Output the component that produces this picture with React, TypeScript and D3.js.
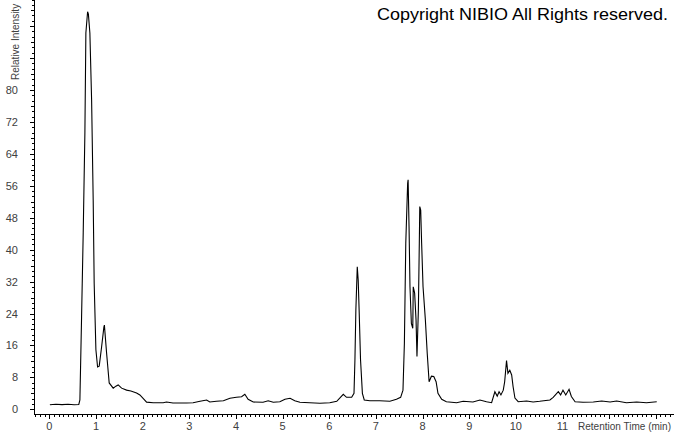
import React, { useEffect, useRef } from "react";
import * as d3 from "d3";

// retention time (min) and relative intensity
const times = [
  0.01, 0.14, 0.27, 0.4, 0.53, 0.63, 0.654, 0.69, 0.725, 0.761, 0.782, 0.819, 0.836, 0.868, 0.905,
  0.939, 0.96, 0.997, 1.033, 1.068, 1.119, 1.168, 1.179, 1.226, 1.282, 1.368, 1.425, 1.475, 1.548,
  1.655, 1.747, 1.869, 1.94, 2.004, 2.084, 2.225, 2.44, 2.51, 2.65, 2.94, 3.08, 3.23, 3.37, 3.44,
  3.58, 3.73, 3.87, 4.01, 4.12, 4.19, 4.26, 4.37, 4.58, 4.69, 4.8, 4.94, 5.05, 5.16, 5.26, 5.37,
  5.58, 5.8, 6.01, 6.16, 6.3, 6.37, 6.48, 6.53, 6.55, 6.57, 6.6, 6.62, 6.64, 6.67, 6.71, 6.75,
  6.87, 7.08, 7.3, 7.44, 7.53, 7.58, 7.61, 7.64, 7.68, 7.69, 7.71, 7.73, 7.76, 7.79, 7.8, 7.83,
  7.86, 7.88, 7.91, 7.93, 7.94, 7.96, 7.98, 8.01, 8.06, 8.1, 8.14, 8.19, 8.24, 8.29, 8.33, 8.41,
  8.51, 8.73, 8.87, 9.08, 9.23, 9.37, 9.48, 9.55, 9.6, 9.64, 9.68, 9.73, 9.76, 9.8, 9.83, 9.87,
  9.91, 9.94, 9.98, 10.05, 10.23, 10.37, 10.51, 10.73, 10.8, 10.91, 10.96, 11.01, 11.07, 11.14,
  11.19, 11.27, 11.44, 11.66, 11.84, 12.02, 12.16, 12.37, 12.59, 12.8, 13.02,
];
const intensity = [
  1.15, 1.28, 1.18, 1.25, 1.13, 1.2, 2.33, 23.1, 44.2, 69.3, 94.3, 99.6, 99.0, 94.3, 77.5,
  52.4, 31.6, 14.9, 10.6, 10.8, 15.6, 20.6, 21.1, 14.1, 6.6, 5.3, 5.8, 6.1, 5.3,
  4.8, 4.6, 4.1, 3.6, 2.8, 1.8, 1.65, 1.65, 1.83, 1.58, 1.58, 1.65, 2.0, 2.33, 1.83,
  2.0, 2.15, 2.75, 3.0, 3.15, 3.76, 2.5, 1.83, 1.75, 2.15, 1.75, 1.9, 2.5, 2.75, 2.15, 1.75,
  1.65, 1.5, 1.65, 2.0, 3.76, 3.0, 3.0, 4.0, 12.4, 24.9, 35.7, 32.4, 24.9, 12.4, 4.0, 2.33,
  2.15, 2.15, 2.0, 2.5, 3.0, 4.8, 16.5, 41.6, 56.6, 57.5, 45.8, 30.7, 21.5, 20.3, 30.7, 29.1,
  22.4, 13.2, 24.9, 41.6, 50.8, 49.9, 41.6, 30.7, 22.4, 14.0, 6.9, 8.3, 8.2, 6.9, 4.0, 2.5,
  1.9, 1.65, 2.0, 1.83, 2.33, 1.9, 1.65, 4.4, 3.3, 4.4, 3.6, 4.8, 6.9, 12.2, 9.0, 9.8,
  8.6, 5.7, 2.8, 1.9, 2.08, 1.83, 2.0, 2.33, 3.0, 4.4, 3.6, 4.8, 3.6, 5.0,
  3.2, 1.9, 1.75, 1.83, 2.08, 1.83, 2.08, 1.65, 1.83, 1.65, 1.9,
];

const xTickLabels = [0, 1, 2, 3, 4, 5, 6, 7, 8, 9, 10, 11];
const yTickLabels = [0, 8, 16, 24, 32, 40, 48, 56, 64, 72, 80];

const App = () => {
  const chartRef = useRef(null);

  useEffect(() => {
    drawChart();
  }, []);

  const drawChart = () => {
    const svg = d3.select(chartRef.current);
    svg.selectAll("*").remove();

    const width = 674;
    const height = 434;
    const left = 34;
    const bottom = 414;

    const x = d3.scaleLinear().domain([-0.33, 13.39]).range([left, width]);
    const y = d3.scaleLinear().domain([-1.18, 102.55]).range([bottom, 0]);

    const font = "Arial, 'Liberation Sans', sans-serif";

    svg.append("rect").attr("width", width).attr("height", height).attr("fill", "#fff");

    // axis lines
    svg
      .append("line")
      .attr("x1", left + 0.5)
      .attr("x2", left + 0.5)
      .attr("y1", 0)
      .attr("y2", bottom + 0.5)
      .attr("stroke", "#000")
      .attr("shape-rendering", "crispEdges");
    svg
      .append("line")
      .attr("x1", left)
      .attr("x2", width)
      .attr("y1", bottom + 0.5)
      .attr("y2", bottom + 0.5)
      .attr("stroke", "#000")
      .attr("shape-rendering", "crispEdges");

    // x ticks: minor every 0.1, major every 1
    const xMinor = d3.range(-3, 134).map(i => i / 10);
    svg
      .append("g")
      .selectAll("line")
      .data(xMinor)
      .join("line")
      .attr("x1", d => Math.round(x(d)) + 0.5)
      .attr("x2", d => Math.round(x(d)) + 0.5)
      .attr("y1", bottom)
      .attr("y2", d => (Math.abs(d - Math.round(d)) < 1e-6 ? bottom + 5 : bottom + 3))
      .attr("stroke", "#000")
      .attr("shape-rendering", "crispEdges");

    svg
      .append("g")
      .selectAll("text")
      .data(xTickLabels)
      .join("text")
      .attr("x", d => x(d))
      .attr("y", 430)
      .attr("text-anchor", "middle")
      .attr("font-family", font)
      .attr("font-size", 11)
      .attr("fill", "#404040")
      .text(d => d);

    svg
      .append("text")
      .attr("x", 578)
      .attr("y", 430)
      .attr("font-family", font)
      .attr("font-size", 10.5)
      .attr("textLength", 93)
      .attr("lengthAdjust", "spacingAndGlyphs")
      .attr("fill", "#404040")
      .text("Retention Time (min)");

    // y ticks: minor every 8/6, major every 8
    const yMinor = d3.range(0, 78).map(i => (i * 8) / 6);
    svg
      .append("g")
      .selectAll("line")
      .data(yMinor)
      .join("line")
      .attr("x1", d => {
        const i = Math.round((d * 6) / 8);
        return i % 6 === 0 ? left - 4 : i % 3 === 0 ? left - 3 : left - 2;
      })
      .attr("x2", left)
      .attr("y1", d => Math.round(y(d)) + 0.5)
      .attr("y2", d => Math.round(y(d)) + 0.5)
      .attr("stroke", "#000")
      .attr("shape-rendering", "crispEdges");

    svg
      .append("g")
      .selectAll("text")
      .data(yTickLabels)
      .join("text")
      .attr("x", 18)
      .attr("y", d => y(d) + 4)
      .attr("text-anchor", "end")
      .attr("font-family", font)
      .attr("font-size", 11)
      .attr("fill", "#404040")
      .text(d => d);

    // a bit smaller so it fits under the top edge
    svg
      .append("text")
      .attr("transform", "translate(19,80) rotate(-90)")
      .attr("font-family", font)
      .attr("font-size", 10)
      .attr("fill", "#404040")
      .text("Relative Intensity");

    // trace
    const points = times.map((t, i) => [t, intensity[i]]);
    const line = d3
      .line()
      .x(d => x(d[0]))
      .y(d => y(d[1]));

    svg
      .append("path")
      .datum(points)
      .attr("d", line)
      .attr("fill", "none")
      .attr("stroke", "#000")
      .attr("stroke-width", 1.1);

    svg
      .append("text")
      .attr("x", 377)
      .attr("y", 20)
      .attr("font-family", font)
      .attr("font-size", 17)
      .attr("textLength", 291)
      .attr("lengthAdjust", "spacingAndGlyphs")
      .attr("fill", "#000")
      .text("Copyright NIBIO All Rights reserved.");
  };

  return (
    <svg
      ref={chartRef}
      width={674}
      height={434}
      style={{ position: "absolute", left: 0, top: 0, display: "block" }}
    ></svg>
  );
};

export default App;
